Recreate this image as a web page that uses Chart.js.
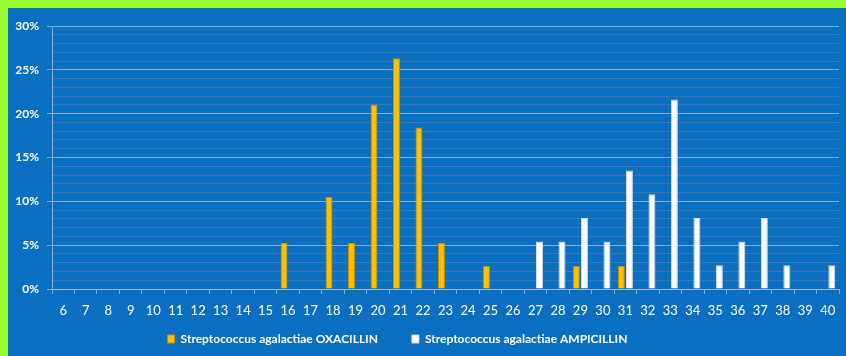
<!DOCTYPE html>
<html>
<head>
<meta charset="utf-8">
<script src="https://cdn.jsdelivr.net/npm/chart.js@4/dist/chart.umd.min.js"></script>
<style>
  html, body { margin: 0; padding: 0; background: #99FF33; }
  body { width: 846px; height: 356px; position: relative; overflow: hidden; }
  #panel { position: absolute; left: 8px; top: 8px; width: 838px; height: 348px; background: #0A6FC1; }
  canvas { display: block; }
</style>
</head>
<body>
<div id="panel"><canvas id="chart" width="838" height="348"></canvas></div>
<script>
// MIC / zone categories along the x axis
const categories = ['6','7','8','9','10','11','12','13','14','15','16','17','18','19','20','21','22','23',
  '24','25','26','27','28','29','30','31','32','33','34','35','36','37','38','39','40'];

// Share of isolates (%) per category
const oxacillin = [null,null,null,null,null,null,null,null,null,null,5.26,null,10.53,5.26,21.05,26.32,18.42,5.26,
  null,2.63,null,null,null,2.63,null,2.63,null,null,null,null,null,null,null,null,null];
const ampicillin = [null,null,null,null,null,null,null,null,null,null,null,null,null,null,null,null,null,null,
  null,null,null,5.41,5.41,8.11,5.41,13.51,10.81,21.62,8.11,2.70,5.41,8.11,2.70,null,2.70];

const seriesNames = ['Streptococcus agalactiae OXACILLIN', 'Streptococcus agalactiae AMPICILLIN'];

// y axis: 0–30 %, labelled every 5 %, faint lines every 1 %
const yMax = 30;
const yMajorStep = 5;

const MAJOR = 'rgba(150,185,225,0.85)';
const MINOR = 'rgba(90,120,160,0.7)';

// Nudge the legend row into place once layout is known
const legendPlacement = {
  id: 'legendPlacement',
  afterLayout(chart) {
    const lg = chart.legend;
    if (!lg) return;
    const pad = lg.options.labels.padding;
    lg.top = 325 - pad;
    lg.left -= 26;
    lg.right -= 26;
  }
};

new Chart(document.getElementById('chart'), {
  type: 'bar',
  data: {
    labels: categories,
    datasets: [
      {
        label: seriesNames[0],
        data: oxacillin,
        backgroundColor: '#FFC000',
        borderColor: '#C98F00',
        borderWidth: 1,
        categoryPercentage: 0.72,
        barPercentage: 0.86
      },
      {
        label: seriesNames[1],
        data: ampicillin,
        backgroundColor: '#FFFFFF',
        borderColor: '#D6DCE4',
        borderWidth: 1,
        categoryPercentage: 0.72,
        barPercentage: 0.86
      }
    ]
  },
  options: {
    responsive: false,
    animation: false,
    layout: { padding: { left: 0, right: 7, top: 18, bottom: 0 } },
    plugins: {
      tooltip: { enabled: false },
      legend: {
        position: 'bottom',
        maxHeight: 27,
        labels: {
          color: '#FFFFFF',
          font: { family: 'Lato', size: 12, weight: 'bold' },
          boxWidth: 7,
          boxHeight: 8,
          padding: 34
        }
      }
    },
    scales: {
      x: {
        grid: {
          offset: true,
          drawOnChartArea: false,
          drawTicks: true,
          tickLength: 5,
          color: MAJOR
        },
        border: { display: true, color: MAJOR, width: 1 },
        ticks: {
          color: '#FFFFFF',
          font: { family: 'Lato', size: 13 },
          padding: 9,
          autoSkip: false,
          maxRotation: 0
        },
        afterFit(scale) { scale.height = 40; }
      },
      y: {
        min: 0,
        max: yMax,
        grid: {
          color: (ctx) => (ctx.tick && ctx.tick.value % yMajorStep === 0) ? MAJOR : MINOR,
          tickColor: (ctx) => (ctx.tick && ctx.tick.value % yMajorStep === 0) ? MAJOR : 'rgba(0,0,0,0)',
          tickLength: 5,
          lineWidth: 1
        },
        border: { display: true, color: MAJOR, width: 1 },
        ticks: {
          stepSize: 1,
          autoSkip: false,
          color: '#FFFFFF',
          font: { family: 'Lato', size: 12, weight: 'bold' },
          padding: 8,
          callback: (v) => (v % yMajorStep === 0 ? v + '%' : '')
        },
        afterFit(scale) { scale.width = 44; }
      }
    }
  },
  plugins: [legendPlacement]
});
</script>
</body>
</html>
